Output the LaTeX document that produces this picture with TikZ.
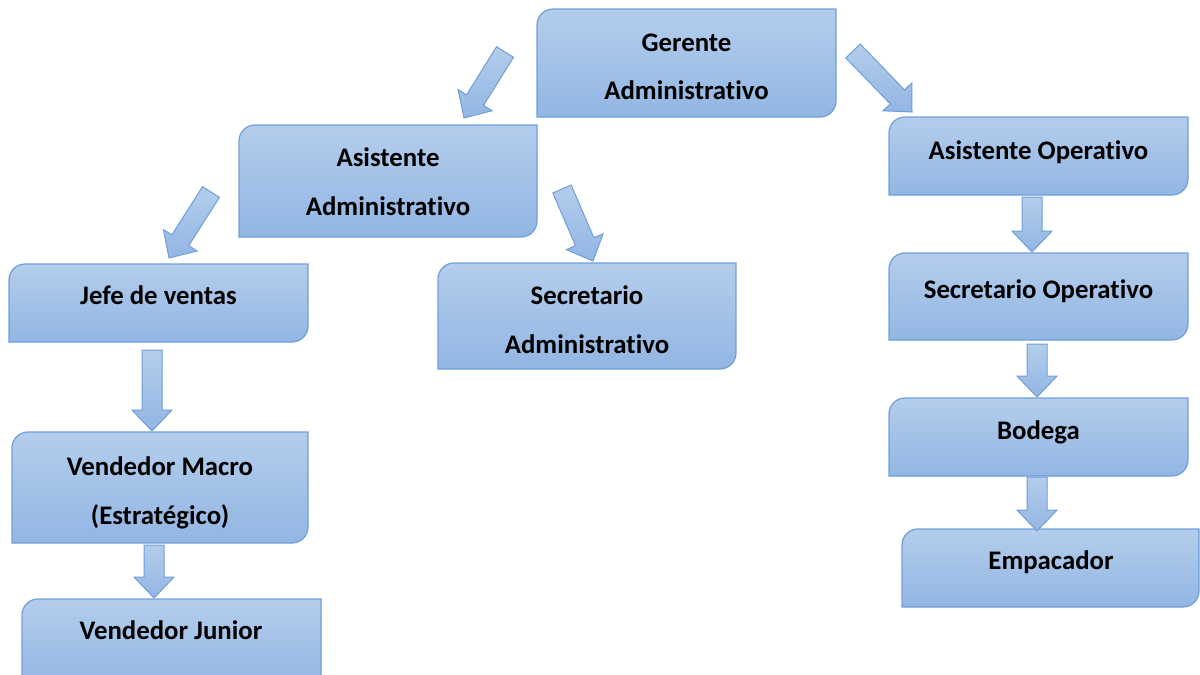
\documentclass[tikz,border=0pt]{standalone}
\usepackage{fontspec}
\setmainfont{Carlito}[Ligatures=CommonOff]
\usetikzlibrary{calc}
\pgfdeclarelayer{bg}
\pgfsetlayers{bg,main}
\definecolor{boxtop}{RGB}{180,205,236}
\definecolor{boxbot}{RGB}{146,182,227}
\definecolor{boxline}{RGB}{110,159,215}
\tikzset{
  card/.style={inner sep=0pt, outer sep=0pt},
  cardshape/.style={draw=boxline, line width=1.2pt, top color=boxtop, bottom color=boxbot},
  lbl/.style={anchor=base, inner sep=0pt, font=\fontsize{26.8}{32}\selectfont\bfseries},
  flow/.style={draw=boxline, line width=1pt, top color=boxtop, bottom color=boxbot, line join=miter},
}
% a card: name, left, top, right, bottom (pixel units, y downwards)
\newcommand\card[5]{%
  \pgfmathsetmacro\cw{#4-#2}\pgfmathsetmacro\ch{#5-#3}%
  \node[card, minimum width=\cw pt, minimum height=\ch pt] (#1) at ({(#2+#4)/2},{(#3+#5)/2}) {};}
% card outline: rounded top-left and bottom-right corners
\newcommand\cardpath[1]{%
  \path[cardshape] let \p1=(#1.south west), \p2=(#1.north east) in
    (\x1,\y1) -- (\x1,\y2-16pt) arc[start angle=180,end angle=90,radius=16pt]
    -- (\x2,\y2) -- (\x2,\y1+16pt) arc[start angle=0,end angle=-90,radius=16pt] -- cycle;}
% block arrow: name, tail coordinate, tip coordinate
\newcommand\flowarrow[3]{%
  \coordinate (#1-hb) at ($(#3)!21pt!(#2)$);
  \path[flow] ($(#2)!10pt!90:(#3)$) -- ($(#1-hb)!10pt!90:(#3)$) -- ($(#1-hb)!20pt!90:(#3)$)
    -- (#3) -- ($(#1-hb)!20pt!-90:(#3)$) -- ($(#1-hb)!10pt!-90:(#3)$) -- ($(#2)!10pt!-90:(#3)$) -- cycle;}
\begin{document}
\begin{tikzpicture}[x=1pt,y=-1pt]
\useasboundingbox (0,0) rectangle (1200,675);
\clip (0,0) rectangle (1200,675);
% cards
\card{ger}{537}{9}{836}{117}
\card{aa}{239}{125}{537}{237}
\card{jefe}{9}{264}{308}{342}
\card{sa}{438}{263}{736}{369}
\card{vm}{12}{432}{308}{543}
\card{vj}{22}{599}{321}{690}
\card{ao}{889}{117}{1188}{195}
\card{so}{889}{253}{1188}{340}
\card{bod}{889}{398}{1188}{476}
\card{emp}{902}{529}{1199}{607}
\begin{pgfonlayer}{bg}
\foreach \cname in {ger,aa,jefe,sa,vm,vj,ao,so,bod,emp} {\cardpath{\cname}}
\end{pgfonlayer}
% labels
\node[lbl] (ger-t1) at (686.5,51) {Gerente};
\node[lbl] (ger-t2) at (686.5,99) {Administrativo};
\node[lbl] (aa-t1) at (388,166) {Asistente};
\node[lbl] (aa-t2) at (388,215) {Administrativo};
\node[lbl] (jefe-t) at (158.5,304) {Jefe de ventas};
\node[lbl] (sa-t1) at (587,304) {Secretario};
\node[lbl] (sa-t2) at (587,353) {Administrativo};
\node[lbl] (vm-t1) at (160,475) {Vendedor Macro};
\node[lbl] (vm-t2) at (160,524) {(Estratégico)};
\node[lbl] (vj-t) at (171,639) {Vendedor Junior};
\node[lbl] (ao-t) at (1038.5,159) {Asistente Operativo};
\node[lbl] (so-t) at (1038.5,298) {Secretario Operativo};
\node[lbl] (bod-t) at (1038.5,439) {Bodega};
\node[lbl] (emp-t) at (1051,569) {Empacador};
% arrow ends
\coordinate (a1s) at (505,52);   \coordinate (a1e) at (464,118);
\coordinate (a2s) at (853,51);   \coordinate (a2e) at (912,112);
\coordinate (a3s) at (211,192);  \coordinate (a3e) at (169,258);
\coordinate (a4s) at (562,189);  \coordinate (a4e) at (593,261);
\coordinate (a5s) at (152,350);  \coordinate (a5e) at (152,431);
\coordinate (a6s) at (154,545);  \coordinate (a6e) at (154,598);
\coordinate (a7s) at (1032,197); \coordinate (a7e) at (1032,252);
\coordinate (a8s) at (1037,344); \coordinate (a8e) at (1037,397);
\coordinate (a9s) at (1037,477); \coordinate (a9e) at (1037,531);
\flowarrow{a1}{a1s}{a1e}
\flowarrow{a2}{a2s}{a2e}
\flowarrow{a3}{a3s}{a3e}
\flowarrow{a4}{a4s}{a4e}
\flowarrow{a5}{a5s}{a5e}
\flowarrow{a6}{a6s}{a6e}
\flowarrow{a7}{a7s}{a7e}
\flowarrow{a8}{a8s}{a8e}
\flowarrow{a9}{a9s}{a9e}
\end{tikzpicture}
\end{document}
